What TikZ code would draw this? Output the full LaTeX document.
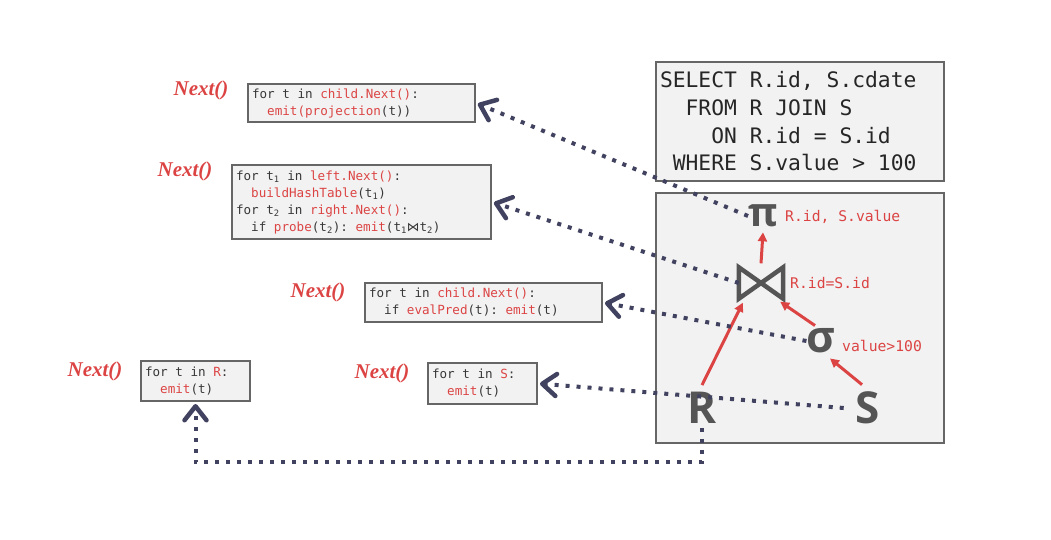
\documentclass[tikz,border=0pt]{standalone}
\usepackage{fontspec}
\newfontfamily\codefont{DejaVu Sans Mono}
\newfontfamily\nextfont{Liberation Serif}
\newfontfamily\symfont{Open Sans}
\newfontfamily\djs{DejaVu Sans}
\usetikzlibrary{arrows.meta}
\definecolor{cred}{HTML}{DC4444}
\definecolor{ctext}{HTML}{383838}
\definecolor{cborder}{HTML}{666666}
\definecolor{cfill}{HTML}{F2F2F2}
\definecolor{cdot}{HTML}{414160}
\definecolor{csym}{HTML}{555555}
\newcommand\redtxt[1]{\textcolor{cred}{#1}}
\newcommand\sk{\hspace*{0.602em}}
\begin{document}
\begin{tikzpicture}[x=1pt,y=-1pt,
  codebox/.style={draw=cborder, fill=cfill, line width=2pt, anchor=north west,
    align=left, inner xsep=4pt, inner ysep=0pt, text=ctext,
    font=\codefont\fontsize{12.6}{17}\selectfont},
  sqlbox/.style={codebox, text=black!85, font=\codefont\fontsize{21.3}{27.7}\selectfont},
  nextlbl/.style={text=cred, inner sep=0pt, font=\nextfont\bfseries\itshape\fontsize{21}{21}\selectfont},
  sym/.style={text=csym, inner sep=0pt, font=\symfont\bfseries\fontsize{44}{44}\selectfont},
  oplabel/.style={text=cred, anchor=west, inner sep=0pt, font=\codefont\fontsize{14.7}{15}\selectfont},
  redarrow/.style={draw=cred, line width=3pt, -{Triangle[length=9pt,width=9pt]}},
  flow/.style={draw=cdot, line width=4pt, dash pattern=on 4pt off 7pt, shorten >=2pt,
    -{Straight Barb[length=14pt,width=22pt,line width=4.5pt,round]}}
]
\useasboundingbox (0,0) rectangle (1051,539);

% code boxes
\node[codebox, text width=219pt, minimum height=38pt] (b1) at (247,83)
  {for\sk t\sk in\sk \redtxt{child.Next()}:\\\sk\sk\redtxt{emit(projection}(t))};
\node[codebox, text width=251pt, minimum height=74pt] (b2) at (231,164)
  {for\sk t\textsubscript{1}\sk in\sk \redtxt{left.Next()}:\\
   \sk\sk\redtxt{buildHashTable}(t\textsubscript{1})\\
   for\sk t\textsubscript{2}\sk in\sk \redtxt{right.Next()}:\\
   \sk\sk if\sk \redtxt{probe}(t\textsubscript{2}):\sk \redtxt{emit}(t\textsubscript{1}{\djs ⋈}t\textsubscript{2})};
\node[codebox, text width=229pt, minimum height=39pt] (b3) at (364,282)
  {for\sk t\sk in\sk \redtxt{child.Next()}:\\\sk\sk if\sk \redtxt{evalPred}(t):\sk \redtxt{emit}(t)};
\node[codebox, text width=101pt, minimum height=40pt] (b4) at (140,360)
  {for\sk t\sk in\sk \redtxt{R}:\\\sk\sk\redtxt{emit}(t)};
\node[codebox, text width=101pt, minimum height=41pt] (b5) at (427,362)
  {for\sk t\sk in\sk \redtxt{S}:\\\sk\sk\redtxt{emit}(t)};

% Next() labels
\node[nextlbl] (n1) at (201,90) {Next()};
\node[nextlbl] (n2) at (185,171) {Next()};
\node[nextlbl] (n3) at (318,292) {Next()};
\node[nextlbl] (n4) at (95,371) {Next()};
\node[nextlbl] (n5) at (382,373) {Next()};

% SQL box
\node[sqlbox, text width=280pt, minimum height=119pt] (sql) at (655,61)
  {SELECT\sk R.id,\sk S.cdate\\
   \sk\sk FROM\sk R\sk JOIN\sk S\\
   \sk\sk\sk\sk ON\sk R.id\sk =\sk S.id\\
   \sk WHERE\sk S.value\sk >\sk 100};

% plan box
\node[draw=cborder, fill=cfill, line width=2pt, anchor=north west, inner sep=0pt,
  minimum width=288pt, minimum height=250pt] (plan) at (655,192) {};

% operators
\node[sym, font=\symfont\bfseries\fontsize{40}{40}\selectfont] (pi) at (763,216) {π};
\node[oplabel] (lpi) at (785,217) {R.id,\sk S.value};
\node[inner sep=0pt, minimum width=44pt, minimum height=31pt] (j) at (761,283) {};
\draw[csym, line width=4.5pt] (j.north west) -- (j.south west) -- (j.north east) -- (j.south east) -- cycle;
\node[oplabel] (lj) at (790,283) {R.id=S.id};
\node[sym] (sig) at (821,341) {σ};
\node[oplabel] (lsig) at (842,346) {value>100};
\node[sym] (R) at (702,408) {R};
\node[sym] (S) at (868,408) {S};

% red plan arrows
\draw[redarrow] ([yshift=4pt]j.north) -- ([yshift=-5pt]pi.south);
\draw[redarrow] ([yshift=7pt]R.north) -- ([xshift=4pt,yshift=-4pt]j.south west);
\draw[redarrow] ([xshift=-6pt,yshift=3pt]sig.north) -- ([xshift=-3pt,yshift=-3pt]j.south east);
\draw[redarrow] ([xshift=-6pt,yshift=7pt]S.north) -- ([xshift=9pt,yshift=-5pt]sig.south);

% dotted Next() flows
\coordinate (bot) at (0,462);
\draw[flow] (pi.west) -- (b1.east);
\draw[flow] (j.west) -- (b2.east);
\draw[flow] (sig.west) -- (b3.east);
\draw[flow] ([xshift=-12pt]S.west) -- (b5.east);
\draw[flow] ([yshift=-4pt]R.south) -- (R.south |- bot) -| (b4.south);
\end{tikzpicture}
\end{document}
